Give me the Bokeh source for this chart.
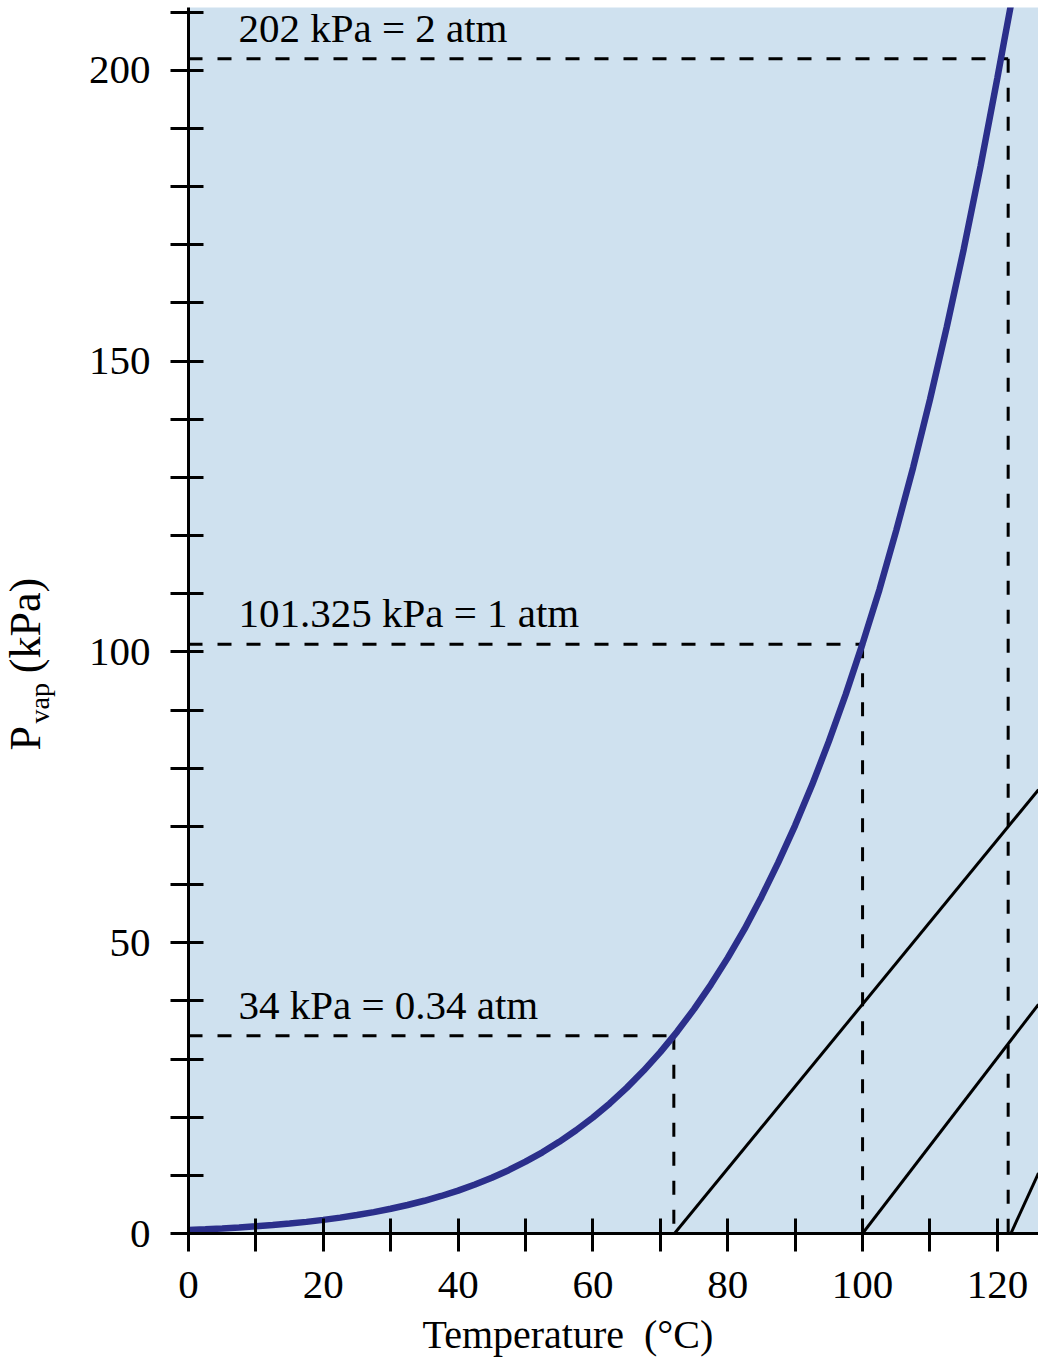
import math
from bokeh.plotting import figure
from bokeh.models import Range1d, FixedTicker, Label
from bokeh.embed import file_html
from bokeh.resources import INLINE

# ---- data ----
temp_c = [0, 2.5, 5, 7.5, 10, 12.5, 15, 17.5, 20, 22.5, 25, 27.5, 30, 32.5,
          35, 37.5, 40, 42.5, 45, 47.5, 50, 52.5, 55, 57.5, 60, 62.5, 65,
          67.5, 70, 72.5, 75, 77.5, 80, 82.5, 85, 87.5, 90, 92.5, 95, 97.5,
          100, 102.5, 105, 107.5, 110, 112.5, 115, 117.5, 120, 121, 122]
p_vap_kpa = [0.61, 0.73, 0.87, 1.04, 1.23, 1.45, 1.71, 2.0, 2.34, 2.73, 3.17,
             3.67, 4.25, 4.90, 5.63, 6.45, 7.38, 8.43, 9.59, 10.89, 12.35,
             13.96, 15.76, 17.75, 19.95, 22.37, 25.04, 27.97, 31.19, 34.72,
             38.58, 42.8, 47.39, 52.37, 57.87, 63.8, 70.18, 77.1, 84.61, 92.7,
             101.42, 110.7, 120.9, 131.7, 143.4, 155.9, 169.2, 183.5, 198.7,
             205.0, 211.2]

# reference points: (temperature, pressure, label)
ref_temp = [72.0, 100.0, 121.6]
ref_press = [34.0, 101.325, 202.0]
ref_labels = ["34 kPa = 0.34 atm", "101.325 kPa = 1 atm", "202 kPa = 2 atm"]

# straight black lines (start and end points)
diag_x0 = [72.1, 100.0, 122.0]
diag_y0 = [0.0, 0.0, 0.0]
diag_x1 = [126.1, 126.1, 126.1]
diag_y1 = [76.3, 39.4, 10.4]

x_major = [0, 20, 40, 60, 80, 100, 120]
x_minor = [10, 30, 50, 70, 90, 110]
y_major = [0, 50, 100, 150, 200]
y_minor = [10, 20, 30, 40, 60, 70, 80, 90, 110, 120, 130, 140, 160, 170, 180, 190, 210]

X_MAX = 126.1
Y_MAX = 210.8

FONT = "Liberation Serif"
W, H = 1038, 1363
LEFT, BOTTOM_PX = 188, 1233
PX_X = (W - LEFT) / X_MAX
PX_Y = (BOTTOM_PX - 7) / Y_MAX
BASE_SHIFT = 0.39   # em distance between label anchor and text baseline

p = figure(width=W, height=H,
           x_range=Range1d(0, X_MAX), y_range=Range1d(0, Y_MAX),
           output_backend="svg", toolbar_location=None,
           min_border_left=LEFT, min_border_right=0,
           min_border_top=7, min_border_bottom=H - BOTTOM_PX)

p.background_fill_color = "#cfe1ef"
p.border_fill_color = "white"
p.outline_line_color = None
p.xgrid.visible = False
p.ygrid.visible = False

for ax in (p.xaxis[0], p.yaxis[0]):
    ax.axis_line_width = 3
    ax.axis_line_color = "black"
    ax.major_tick_line_width = 3
    ax.minor_tick_line_width = 3
    ax.major_tick_line_color = "black"
    ax.minor_tick_line_color = "black"
    ax.major_tick_in = 15
    ax.major_tick_out = 18
    ax.minor_tick_in = 15
    ax.minor_tick_out = 18
    ax.major_label_text_font = FONT
    ax.major_label_text_font_size = "41px"
    ax.major_label_text_color = "black"
    ax.major_label_standoff = 20

p.xaxis[0].ticker = FixedTicker(ticks=x_major, minor_ticks=x_minor)
p.yaxis[0].ticker = FixedTicker(ticks=y_major, minor_ticks=y_minor)

# dashed guide lines
for t, pr in zip(ref_temp, ref_press):
    p.line([0, t], [pr, pr], line_color="black", line_width=3, line_dash="14 15")
    p.line([t, t], [pr, 0], line_color="black", line_width=3, line_dash="14 15")

# diagonal lines
p.segment(x0=diag_x0, y0=diag_y0, x1=diag_x1, y1=diag_y1,
          line_color="black", line_width=3)

# vapor pressure curve
p.line(temp_c, p_vap_kpa, line_color="#2b2f8b", line_width=6.5)

# annotation texts
for pr, txt in zip(ref_press, ref_labels):
    p.add_layout(Label(x=7.4, y=pr, text=txt, y_offset=31,
                       text_font=FONT, text_font_size="41px",
                       text_color="black", text_baseline="alphabetic",
                       text_align="left"))

# axis titles placed in the side panels (so they are not clipped to the frame)
def title_label(side, sx, baseline_sy, txt, size, rotated=False):
    shift = BASE_SHIFT * size
    if rotated:
        ax_, ay_ = sx - shift, baseline_sy
        ang = math.pi / 2
    else:
        ax_, ay_ = sx, baseline_sy - shift
        ang = 0
    p.add_layout(Label(x=(ax_ - LEFT) / PX_X, y=(BOTTOM_PX - ay_) / PX_Y,
                       text=txt, angle=ang, text_font=FONT,
                       text_font_size=f"{size}px", text_color="black",
                       text_baseline="alphabetic", text_align="left"), side)

title_label("below", 422, 1350, "Temperature\u00a0\u00a0(°C)", 40)
title_label("left", 42, 750, "P\u00a0\u00a0\u00a0\u00a0\u2009(kPa)", 44, rotated=True)
title_label("left", 50, 723, "vap", 28, rotated=True)

open("out.html", "w").write(file_html(p, INLINE))
